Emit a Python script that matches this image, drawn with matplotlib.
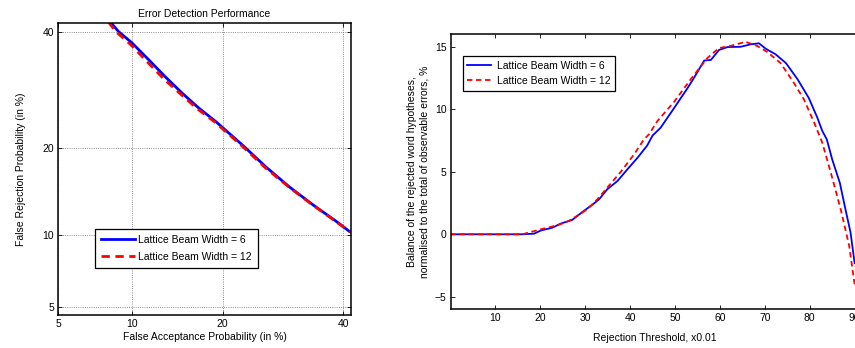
import matplotlib
matplotlib.use("Agg")
import matplotlib.pyplot as plt
import numpy as np
from statistics import NormalDist

plt.rcParams['font.family'] = ['Liberation Sans', 'DejaVu Sans']
plt.rcParams['font.size'] = 7.5

# left panel: DET curve, values in %
fa_bw6 = [8.24, 8.87, 9.97, 11.47, 13.1, 14.95, 16.9, 19.1, 20.7, 22.8, 26.4, 30.3, 34.4, 38.7, 41.2, 41.6]
fr_bw6 = [41.97, 40.1, 37.9, 34.7, 31.6, 28.7, 26.2, 24.0, 22.4, 20.5, 17.5, 15.0, 13.0, 11.3, 10.35, 10.25]
fa_bw12 = [8.1, 8.7, 9.8, 11.3, 12.9, 14.8, 16.8, 19.0, 20.6, 22.7, 26.3, 30.2, 34.3, 38.6, 41.2, 41.6]
fr_bw12 = [41.97, 40.0, 37.7, 34.4, 31.3, 28.5, 26.0, 23.9, 22.3, 20.4, 17.4, 15.0, 13.0, 11.3, 10.35, 10.25]
det_ticks = [5, 10, 20, 40]

# right panel: balance vs rejection threshold
thr_bw6 = [0, 5, 10, 16, 18.6, 20.1, 22.7, 24.5, 27.1, 29.7, 32.0, 33.1, 34.9, 37.2, 39.4, 41.6,
           43.8, 45.0, 46.8, 49.8, 52.8, 54.2, 56.5, 58.0, 59.8, 61.7, 64.6, 66.9, 68.7, 70.2,
           72.4, 74.7, 77.3, 79.8, 81.7, 82.8, 83.8, 85.0, 86.7, 87.8, 89.1, 90.0]
bal_bw6 = [0, 0, 0, 0, 0.05, 0.3, 0.53, 0.85, 1.15, 1.87, 2.48, 2.8, 3.6, 4.27, 5.2, 6.1,
           7.1, 7.9, 8.53, 10.1, 11.7, 12.5, 13.9, 13.95, 14.75, 14.98, 15.0, 15.2, 15.28, 14.85,
           14.4, 13.7, 12.4, 10.9, 9.33, 8.27, 7.6, 6.0, 4.13, 2.27, 0.13, -2.3]
thr_bw12 = [0, 5, 10, 16, 20.1, 23.8, 26.4, 30.5, 32.7, 34.9, 37.9, 40.9, 43.1, 44.2, 46.1, 49.8,
            53.5, 57.2, 59.8, 62.4, 65.7, 68.3, 70.5, 73.5, 76.5, 78.7, 81.0, 82.8, 84.7, 86.9,
            88.8, 90.0]
bal_bw12 = [0, 0, 0, 0, 0.4, 0.72, 1.07, 2.0, 2.8, 3.73, 4.99, 6.4, 7.6, 8.0, 9.07, 10.6,
            12.4, 14.1, 14.9, 15.07, 15.4, 15.07, 14.6, 13.7, 12.1, 10.8, 8.93, 7.33, 4.93, 2.0,
            -0.93, -4.0]

nd = NormalDist()
_ppf = np.vectorize(lambda p: nd.inv_cdf(min(max(p / 100.0, 1e-9), 1 - 1e-9)), otypes=[float])
_cdf = np.vectorize(lambda z: 100.0 * nd.cdf(z), otypes=[float])


def probit(v):
    return _ppf(np.asarray(v, dtype=float))


def unprobit(v):
    return _cdf(np.asarray(v, dtype=float))


fig = plt.figure(figsize=(8.55, 3.48), dpi=100)

# ---- left: DET plot
ax1 = fig.add_axes([58 / 855, 33 / 348, 293 / 855, 292 / 348])
ax1.set_xscale('function', functions=(probit, unprobit))
ax1.set_yscale('function', functions=(probit, unprobit))
ax1.plot(fa_bw6, fr_bw6, color='#0000ff', lw=2, label='Lattice Beam Width = 6')
ax1.plot(fa_bw12, fr_bw12, color='#ff0000', lw=2, ls=(0, (3, 2)), label='Lattice Beam Width = 12')
ax1.set_xlim(5, 41.5)
ax1.set_ylim(4.6, 41.8)
ax1.set_xticks(det_ticks)
ax1.set_yticks(det_ticks)
ax1.set_xticklabels([str(t) for t in det_ticks])
ax1.set_yticklabels([str(t) for t in det_ticks])
ax1.minorticks_off()
ax1.grid(True, ls=':', color='#666666', lw=0.6)
ax1.set_title('Error Detection Performance', fontsize=7.5, pad=4)
ax1.set_xlabel('False Acceptance Probability (in %)', labelpad=2)
ax1.set_ylabel('False Rejection Probability (in %)', labelpad=12)
leg1 = ax1.legend(loc='lower left', bbox_to_anchor=(0.127, 0.162), borderaxespad=0,
                  fancybox=False, edgecolor='black', framealpha=1, handlelength=3.3,
                  borderpad=0.55, labelspacing=0.7, handletextpad=0.3)
leg1.get_frame().set_linewidth(0.9)

# ---- right: balance curve
ax2 = fig.add_axes([450.5 / 855, 38.7 / 348, 408.6 / 855, 275 / 348])
ax2.plot(thr_bw6, bal_bw6, color='#0000ff', lw=1.3, label='Lattice Beam Width = 6')
ax2.plot(thr_bw12, bal_bw12, color='#ff0000', lw=1.3, ls=(0, (3, 2)), label='Lattice Beam Width = 12')
ax2.set_xlim(0, 91)
ax2.set_ylim(-6, 16)
ax2.set_xticks(np.arange(10, 91, 10))
ax2.set_yticks([-5, 0, 5, 10, 15])
ax2.set_xlabel('Rejection Threshold, x0.01', labelpad=7)
ax2.set_ylabel('Balance of the rejected word hypotheses,\nnormalised to the total of observable errors, %',
               labelpad=4)
leg2 = ax2.legend(loc='upper left', bbox_to_anchor=(0.03, 0.921), borderaxespad=0,
                  fancybox=False, edgecolor='black', framealpha=1, handlelength=2.3,
                  borderpad=0.45, labelspacing=0.5, handletextpad=0.5)
leg2.get_frame().set_linewidth(0.9)

for ax in (ax1, ax2):
    ax.tick_params(direction='in', top=True, right=True, length=3, width=0.6, pad=3)
    for s in ax.spines.values():
        s.set_linewidth(1.1)

fig.savefig('out.png', dpi=100)
